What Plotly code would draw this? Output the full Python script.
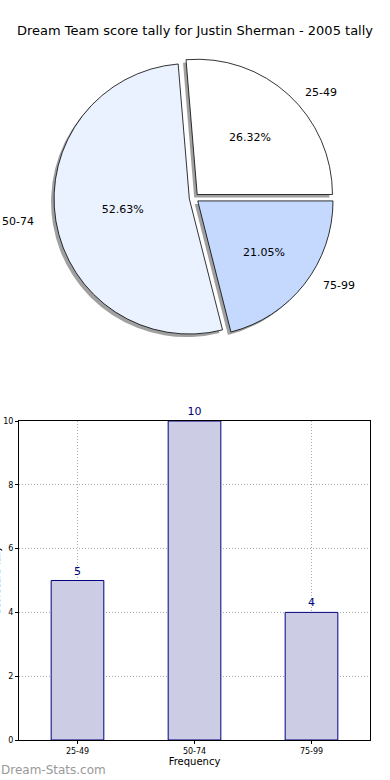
import math
import plotly.graph_objects as go

# ---- data ----
categories = ["25-49", "50-74", "75-99"]
counts = [5, 10, 4]
slice_colors = ["#FFFFFF", "#EAF1FF", "#C5D9FF"]
y_ticks = [0, 2, 4, 6, 8, 10]
title_text = "Dream Team score tally for Justin Sherman - 2005 tally"
x_title = "Frequency"
y_title = "Scorecard Tally"
watermark = "Dream-Stats.com"

W, H = 390, 780
FONT = "DejaVu Sans"

def px_x(v):
    return v / W

def px_y(v):
    return 1 - v / H

pull = [0.035, 0.035, 0.035]
total = sum(counts)
# first slice starts at 3 o'clock and runs counterclockwise
rotation = 90 - 360 * counts[0] / total

# pie domain (pixels)
cx, cy, half = 194, 198, 140
dom_x = [px_x(cx - half), px_x(cx + half)]
dom_y = [px_y(cy + half), px_y(cy - half)]
sh = 3
dom_x_sh = [px_x(cx - half - sh), px_x(cx + half - sh)]
dom_y_sh = [px_y(cy + half + sh), px_y(cy - half + sh)]

fig = go.Figure()

common = dict(labels=categories, values=counts, sort=False,
              direction="counterclockwise", rotation=rotation, pull=pull,
              showlegend=False)

# shadow
fig.add_trace(go.Pie(
    domain=dict(x=dom_x_sh, y=dom_y_sh),
    marker=dict(colors=["rgba(120,120,120,0.7)"] * 3, line=dict(width=0)),
    textinfo="none", hoverinfo="skip", **common,
))

# main pie with percentages
fig.add_trace(go.Pie(
    domain=dict(x=dom_x, y=dom_y),
    marker=dict(colors=slice_colors, line=dict(color="#000000", width=0.8)),
    texttemplate="%{percent:.2%}", textposition="inside",
    insidetextorientation="horizontal",
    textfont=dict(family=FONT, size=11, color="black"),
    **common,
))

# bar chart
fig.add_trace(go.Bar(
    x=categories, y=counts, width=0.45,
    marker=dict(color="#CCCCE5", line=dict(color="#000080", width=1)),
    text=[str(c) for c in counts], textposition="outside",
    textfont=dict(family=FONT, size=11, color="#000080"),
    cliponaxis=False, showlegend=False,
    xaxis="x", yaxis="y",
))

# outside slice labels at 1.1 x radius of each slice's mid angle
annotations = []
rx, ry = 146, 130
start = 0.0
for lab, v in zip(categories, counts):
    span = 360.0 * v / total
    mid = math.radians(start + span / 2)
    start += span
    lx = cx + 1.1 * rx * math.cos(mid)
    ly = cy - 1.1 * ry * math.sin(mid)
    annotations.append(dict(
        text=lab, x=px_x(lx), y=px_y(ly), xref="paper", yref="paper",
        xanchor="left" if math.cos(mid) > 0 else "right", yanchor="middle",
        showarrow=False, font=dict(family=FONT, size=11, color="black")))

annotations.append(dict(
    text=y_title, x=px_x(-3), y=px_y(580), xref="paper", yref="paper",
    xanchor="center", yanchor="middle", textangle=-90, showarrow=False,
    font=dict(family=FONT, size=9, color="black")))

annotations.append(dict(
    text=watermark, x=px_x(-1), xref="paper", xanchor="left",
    y=px_y(770), yref="paper", yanchor="middle", showarrow=False,
    font=dict(family=FONT, size=12, color="#999999")))

grid = dict(showgrid=True, gridcolor="#aaaaaa", griddash="1px,2px", gridwidth=1)

fig.update_layout(
    width=W, height=H,
    margin=dict(l=0, r=0, t=0, b=0, autoexpand=False),
    paper_bgcolor="white", plot_bgcolor="white",
    font=dict(family=FONT, color="black"),
    title=dict(text=title_text, x=0.5, xanchor="center", y=px_y(30), yanchor="middle",
               font=dict(family=FONT, size=13, color="black")),
    xaxis=dict(domain=[px_x(19), px_x(370)], range=[-0.5, 2.5], anchor="y",
               automargin=False,
               showline=True, mirror=True, linecolor="black", linewidth=1,
               ticks="outside", ticklen=3, tickcolor="black",
               tickfont=dict(family=FONT, size=8, color="black"),
               title=dict(text=x_title, font=dict(family=FONT, size=10), standoff=0),
               **grid),
    yaxis=dict(domain=[px_y(740), px_y(421)], range=[0, 10], anchor="x",
               automargin=False, tickvals=y_ticks,
               showline=True, mirror=True, linecolor="black", linewidth=1,
               zeroline=False,
               ticks="outside", ticklen=3, tickcolor="black",
               tickfont=dict(family=FONT, size=8, color="black"),
               **grid),
    annotations=annotations,
)

fig.write_html("out.html", config={"displayModeBar": False},
               post_script="document.body.style.margin='0';document.body.style.padding='0';")
